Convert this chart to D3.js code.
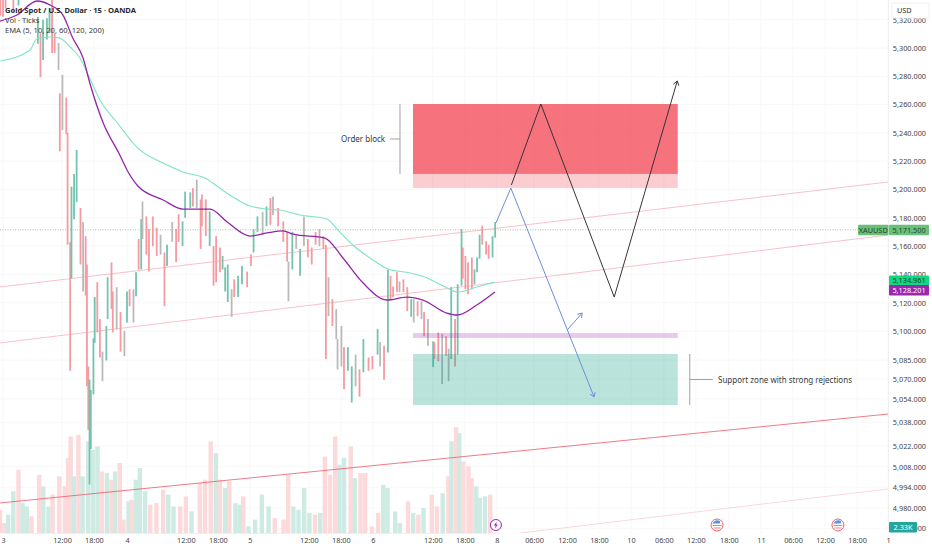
<!DOCTYPE html>
<html>
<head>
<meta charset="utf-8">
<script src="https://cdn.jsdelivr.net/npm/d3@7"></script>
<style>
  html, body { margin: 0; padding: 0; background: #fff; }
  svg { display: block; }
  text { font-family: "Noto Sans", sans-serif; }
</style>
</head>
<body>
<div id="chart"></div>
<script>
// time is in session units: one trading day is about 24 units, day "3" = 0
const barTime = [-0.5,0,0.5,1.25,2,3,3.75,4.5,5.5,6.75,7.25,7.75,8.5,9,9.5,10,10.75,11,11.5,12.25,12.5,13,13.25,13.75,14.25,15,15.5,16,16.25,16.5,16.75,17,17.5,17.75,18.25,18.75,19.25,20,20.25,21,21.25,22,22.75,23.5,24,24.5,25.25,25.75,26.25,26.75,27,27.75,28.25,29,29.75,30.5,31.25,31.75,32.75,33.5,34,34.75,35.25,36.25,36.75,37.5,38.25,38.5,39.25,40,40.75,41.25,42,42.5,43,43.5,44.25,44.75,45.5,46.25,47.25,48,48.5,49.25,50.25,51,51.75,52.25,53.25,54.25,55,55.25,56,56.75,57.5,58.25,59,59.75,60.5,61.25,62,62.5,63,63.75,64.5,64.75,65.5,66,66.75,67.5,68.25,69,69.75,70.75,71.5,72.5,73,73.75,74.5,75,75.5,76.25,76.75,77.5,78.25,79,79.5,80.25,81,81.5,82.25,83.25,83.5,84.25,85,85.75,86.25,86.75,87.5,88,88.75,89,89.5,90,90.75,91.25,91.75,92.25,92.75,93.5,94,94.75,95.25];
const barHigh = [5334,5334,5340,5355,5338,5340,5350,5352,5350,5322,5310.5,5320,5321,5328,5334,5310.5,5303.5,5268,5281,5265,5240,5163,5202,5211,5228,5187,5177,5167,5147,5076,5067,5060,5095,5124,5134.5,5108.5,5086,5103.5,5138,5148.5,5128,5131,5113.5,5100,5128,5129.5,5129.5,5141.5,5165,5179,5191.5,5181,5172,5181,5173,5168,5155.5,5161,5177,5172,5182.5,5177.5,5198.5,5198,5201,5207,5193,5196.5,5193,5184.5,5160,5167,5159,5153,5145,5147,5129.5,5136.5,5139,5146,5142,5154,5172,5181,5184,5188,5194,5195,5187,5177.5,5170,5149,5170,5168,5158,5181,5165,5159,5170,5172,5167,5161,5138,5122.5,5115.5,5094.5,5103.5,5089,5089,5076,5084,5074,5094.5,5082,5083,5101.5,5092.5,5090,5143.5,5139,5131.5,5141.5,5135,5136.5,5131,5122.5,5122.5,5121,5121,5113.5,5108.5,5093,5092.5,5099,5098,5096.5,5088,5131,5108.5,5133,5172,5159,5153,5148.5,5152,5143.5,5152,5168,5174.5,5163.5,5161,5167,5177];
const barLow = [5323,5322,5328,5338,5325,5330,5338,5340,5337,5303,5279.5,5291.5,5306,5311,5296.5,5296.5,5284.5,5227,5242,5239,5161,5073,5137,5179,5191,5147,5128,5125,5062.5,5033,4996,5020,5057,5092,5099,5082,5066,5080,5108.5,5115.5,5099,5101,5086,5083,5106,5117.5,5106,5124.5,5143.5,5143.5,5165,5154,5142,5160,5153,5154,5117.5,5146,5163,5148.5,5163,5160,5180,5187,5188,5187,5158,5174,5167,5160,5132,5134.5,5141.5,5143.5,5128,5120.5,5110,5124,5124,5133,5131,5146,5155.5,5170,5168,5174,5175,5182,5174,5163,5149,5121,5143.5,5158,5139,5160,5152,5147,5161,5160,5158,5081,5110.5,5103.5,5094.5,5074,5076,5060.5,5073,5051.5,5062.5,5055.5,5072,5073,5074,5084,5076,5067,5085.5,5122.5,5124,5127.5,5127.5,5127.5,5114,5110,5106,5110.5,5108.5,5096.5,5090,5075.5,5081,5079.5,5064,5083,5066,5081,5076,5084,5132,5137,5129.5,5126,5129.5,5133,5141.5,5151,5161,5154,5151,5152,5166];
// 1 up, -1 down, 0 mixed (red and green wicks blurred together)
const barDir = [-1,-1,-1,1,-1,1,1,1,1,1,-1,1,1,1,-1,-1,0,-1,0,-1,-1,-1,1,1,1,-1,0,-1,-1,-1,1,1,1,1,-1,-1,0,1,1,-1,-1,0,-1,0,1,-1,0,1,-1,1,0,-1,-1,-1,-1,0,-1,1,0,-1,-1,1,1,1,-1,0,-1,-1,-1,1,-1,-1,-1,1,1,1,0,-1,1,1,-1,-1,1,1,0,1,-1,0,-1,-1,-1,0,1,0,1,0,-1,-1,-1,0,-1,-1,0,-1,0,0,0,-1,1,1,0,-1,1,-1,-1,1,0,-1,1,-1,-1,-1,0,-1,-1,1,0,-1,0,-1,0,1,-1,-1,0,-1,0,1,-1,1,1,-1,-1,-1,-1,1,1,1,-1,-1,-1,1,1];

const volTime = [-0.6,0.2,1,2,3,3.8,4.6,5.5,7,7.8,8.8,9.6,10.9,12,12.6,13.1,13.7,14.6,15.4,16.5,17.4,18.3,19.1,20.1,21,21.7,22.6,23.3,24.3,24.9,25.7,26.5,27.5,28.5,29.7,31,32,33,34.3,35.4,36.5,38.1,39.1,40.2,41.2,42,43,43.8,45,45.9,46.5,47.5,48.8,50.1,51.4,52.6,54.3,55.2,56.2,57.2,58.3,59.3,60.4,61.4,62.3,63.3,64.3,65.1,66,67.3,68.1,69.2,70.1,71.4,72.6,73.6,74.4,75.9,76.8,78.4,79.4,80.4,81.4,83,84,85.1,86.2,86.8,87.7,88.3,89.1,90.1,90.7,91.6,92.3,93.3,94.3];
const volValue = [9.05,3.9,7.1,16.2,24.6,11.6,10.3,6.5,22.6,18.1,10.3,14.9,22,18.1,29.1,37.5,22,38.1,22,35.6,32.3,33.6,23.9,23.3,20.7,23.9,27.2,5.2,12.3,12.9,20.7,25.2,16.2,11,11.6,16.8,14.9,10.3,10.3,14.2,8.4,19.4,20.7,35.6,31,20.7,17.5,20,11.6,11,14.2,2.6,5.2,14.9,10.3,5.8,5.2,22.6,10.3,9.05,17.5,7.8,7.1,7.8,29.7,22.6,37.5,26.5,29.1,33.6,21.3,23.3,23.3,2.6,7.8,18.7,17.5,8.4,3.9,12.3,7.8,7.1,9.7,14.9,10.3,15.5,22,35.6,41.1,38.8,27.8,25.9,21.3,18.1,13.6,14.2,14.9];
const volDir = [-1,-1,1,1,-1,1,1,-1,-1,1,1,-1,-1,-1,-1,-1,1,-1,1,1,1,1,-1,1,-1,1,-1,-1,1,-1,1,1,1,-1,-1,-1,1,1,-1,-1,1,-1,-1,-1,1,-1,1,-1,1,1,-1,1,1,1,1,-1,-1,-1,1,1,1,1,-1,1,-1,-1,-1,1,1,-1,1,-1,-1,-1,-1,1,1,1,1,-1,1,-1,1,-1,-1,1,-1,1,-1,1,-1,-1,-1,1,1,1,-1];

const emaTealTime = [-0.5,5.25,6.5,9,11,13,14.9,16.5,18.75,22,26.1,31,34.8,39.5,40.6,44.5,47.8,51.1,53.6,57.5,62.7,64.8,67.7,71.6,74.5,78.8,82.1,85.2,88.1,91.7,95.2];
const emaTealValue = [5290.8,5298.6,5306.4,5307.8,5307,5300.7,5292.9,5280.9,5263.2,5247.7,5229.3,5218.7,5212.4,5207.4,5204.6,5194.7,5188.3,5186.2,5185.5,5182,5179.2,5171.4,5160.8,5150.2,5143.8,5141,5137.5,5131.8,5127.6,5131.1,5134.6];
const emaPurpleTime = [-0.6,2.7,6.6,9.1,11.6,13.5,15.5,16.8,19.4,22.6,24,26.1,31,34.8,40.1,43.4,47.8,51.1,54.2,56.1,62.3,65.8,69.7,74.3,78.2,81.3,85.9,87.9,91.7,95.2];
const emaPurpleValue = [5319,5323.3,5333.2,5330.4,5323.3,5307,5292.9,5275.3,5247,5224.4,5213.8,5202.5,5192.6,5186.2,5186.2,5177,5167.1,5169.3,5170.7,5168.5,5165.7,5151.6,5133.9,5121.9,5124,5121.9,5112.7,5111.3,5118.4,5127.6];

const channelNames = ["upper", "middle", "lower", "faint"];
const channelTime = [[-0.6, 171.3], [-0.6, 171.3], [-0.6, 171.3], [100.1, 171.3]];
const channelPrice = [[5131.1, 5205.3], [5091.9, 5167.8], [4983.4, 5043.7], [4963, 4992.9]];

const zoneTime = [79.35, 130.6];
const orderBlock = [5211, 5260.4];
const orderBlockWick = [5201, 5211];
const midBand = [5095.3, 5098.6];
const supportZone = [5049.8, 5084.4];

const blackPathTime = [98.4, 104.1, 118.3, 130.5];
const blackPathPrice = [5203.2, 5260.4, 5124, 5276.7];
const bluePathTime = [95.4, 98.3, 114.4];
const bluePathPrice = [5176.3, 5201, 5055.3];
const blueBounceTime = [109.2, 112.1];
const blueBouncePrice = [5100.7, 5112.7];

// the axis spaces its lower labels unevenly, so where a label sits and what it says are kept apart
const priceTickAt = [5320,5300,5280,5260,5240,5220,5200,5180,5160,5140,5120,5100,5080.3,5067.5,5054,5038,5022,5008,4994,4980,4966];
const priceTickLabels = ["5,320.000","5,300.000","5,280.000","5,260.000","5,240.000","5,220.000","5,200.000","5,180.000","5,160.000","5,140.000","5,120.000","5,100.000","5,085.000","5,070.000","5,054.000","5,038.000","5,022.000","5,008.000","4,994.000","4,980.000","4,966.000"];
const timeTicks = [0,11.42,17.6,24,35.4,41.6,47.8,59.2,65.4,71.6,83.2,89.4,95.6,102.77,109.16,115.35,121.55,127.9,134.1,140.5,146.7,152.9,159.1,165.3,171.3];
const timeLabels = ["3","12:00","18:00","4","12:00","18:00","5","12:00","18:00","6","12:00","18:00","8","06:00","12:00","18:00","10","06:00","12:00","18:00","11","06:00","12:00","18:00","1"];
const eventTimes = [95.4, 138.2, 161.6];

const lastPrice = 5171.5, emaTealLast = 5134.961, emaPurpleLast = 5128.201, lastVolume = 2.33;

const width = 932, height = 550, plotRight = 888, plotBottom = 533;

const svg = d3.select("#chart").append("svg")
  .attr("width", width)
  .attr("height", height);

svg.append("defs").append("clipPath").attr("id", "plot")
  .append("rect").attr("width", plotRight).attr("height", plotBottom);

const x = d3.scaleLinear().domain([0, 96]).range([3, 499]);
const y = d3.scaleLinear().domain([4980, 5100, 5300]).range([508, 331, 48]);
const yVol = d3.scaleLinear().domain([0, 2.33]).range([plotBottom, 527]);

const red = "#f69aa2", green = "#74c3ad", mixed = "#bdb8b8";
const barColor = d => d > 0 ? green : d < 0 ? red : mixed;

const plot = svg.append("g").attr("clip-path", "url(#plot)");

// grid
plot.append("g").selectAll("line").data(timeTicks).join("line")
  .attr("x1", d => x(d)).attr("x2", d => x(d))
  .attr("y1", 0).attr("y2", plotBottom)
  .attr("stroke", "#f8f8f8");
plot.append("g").selectAll("line").data(priceTickAt).join("line")
  .attr("x1", 0).attr("x2", plotRight)
  .attr("y1", d => y(d)).attr("y2", d => y(d))
  .attr("stroke", "#f8f8f8");

// volume
plot.append("g").selectAll("rect").data(volValue).join("rect")
  .attr("x", (d, i) => x(volTime[i]) - 2.2)
  .attr("width", 4.4)
  .attr("y", d => yVol(d))
  .attr("height", d => plotBottom - yVol(d))
  .attr("fill", (d, i) => volDir[i] > 0 ? "#cdebe3" : "#fcd9da");

// channel lines
const channelOpacity = [0.35, 0.35, 0.75, 0.22];
channelNames.forEach((name, i) => {
  plot.append("line")
    .attr("class", "channel-" + name)
    .attr("x1", x(channelTime[i][0])).attr("x2", x(channelTime[i][1]))
    .attr("y1", y(channelPrice[i][0])).attr("y2", y(channelPrice[i][1]))
    .attr("stroke", "#ee4d5f")
    .attr("stroke-opacity", channelOpacity[i])
    .attr("stroke-width", 1);
});

// last price dotted line
plot.append("line")
  .attr("x1", 0).attr("x2", plotRight)
  .attr("y1", y(lastPrice)).attr("y2", y(lastPrice))
  .attr("stroke", "#a9c4a9")
  .attr("stroke-dasharray", "1 1.5");

// candles, drawn as high-low strokes since the picture is too soft to show bodies
plot.append("g").selectAll("line").data(barTime).join("line")
  .attr("x1", d => x(d)).attr("x2", d => x(d))
  .attr("y1", (d, i) => y(barHigh[i]))
  .attr("y2", (d, i) => y(barLow[i]))
  .attr("stroke", (d, i) => barColor(barDir[i]))
  .attr("stroke-width", 1.8);

// EMAs
const emaLine = d3.line().curve(d3.curveMonotoneX);
function drawEma(times, values, color, w) {
  plot.append("path")
    .attr("d", emaLine(times.map((t, i) => [x(t), y(values[i])])))
    .attr("fill", "none")
    .attr("stroke", color)
    .attr("stroke-width", w);
}
drawEma(emaTealTime, emaTealValue, "#7fe3c6", 1.1);
drawEma(emaPurpleTime, emaPurpleValue, "#9325a8", 1.3);

// zones
function drawZone(range, color, opacity) {
  plot.append("rect")
    .attr("x", x(zoneTime[0]))
    .attr("width", x(zoneTime[1]) - x(zoneTime[0]))
    .attr("y", y(range[1]))
    .attr("height", y(range[0]) - y(range[1]))
    .attr("fill", color)
    .attr("fill-opacity", opacity);
}
drawZone(orderBlock, "#f23645", 0.7);
drawZone(orderBlockWick, "#f23645", 0.25);
drawZone(midBand, "#9c27b0", 0.25);
drawZone(supportZone, "#089981", 0.28);

// projected paths
const pathLine = d3.line();
function arrowHead(tip, from, color) {
  const a = Math.atan2(tip[1] - from[1], tip[0] - from[0]);
  const len = 5;
  const wing = s => [tip[0] - len * Math.cos(a + s * 0.6), tip[1] - len * Math.sin(a + s * 0.6)];
  plot.append("path")
    .attr("d", pathLine([wing(1), tip, wing(-1)]))
    .attr("fill", "none")
    .attr("stroke", color);
}
function drawPath(times, prices, color) {
  const pts = times.map((t, i) => [x(t), y(prices[i])]);
  plot.append("path")
    .attr("d", pathLine(pts))
    .attr("fill", "none")
    .attr("stroke", color)
    .attr("stroke-width", 1);
  arrowHead(pts[pts.length - 1], pts[pts.length - 2], color);
}
drawPath(blackPathTime, blackPathPrice, "#3c3236");
drawPath(bluePathTime, bluePathPrice, "#6a90dc");
drawPath(blueBounceTime, blueBouncePrice, "#6a90dc");

// notes with brackets
const noteColor = "#a0a0a0";
function bracket(xBar, xTick, range) {
  const mid = (y(range[0]) + y(range[1])) / 2;
  plot.append("path")
    .attr("d", pathLine([[xBar, y(range[0])], [xBar, y(range[1])]]))
    .attr("stroke", noteColor);
  plot.append("path")
    .attr("d", pathLine([[xBar, mid], [xTick, mid]]))
    .attr("stroke", noteColor);
  return mid;
}
const obMid = bracket(x(zoneTime[0]) - 13, x(zoneTime[0]) - 23, orderBlock);
const szMid = bracket(x(zoneTime[1]) + 12, x(zoneTime[1]) + 35, supportZone);
svg.append("text").attr("x", 341).attr("y", obMid + 3)
  .attr("font-size", 8).attr("fill", "#3a3a3a").text("Order block");
svg.append("text").attr("x", 718).attr("y", szMid + 3)
  .attr("font-size", 8).attr("fill", "#3a3a3a").text("Support zone with strong rejections");

// axes
const priceAxis = svg.append("g")
  .attr("transform", `translate(${width - 3},0)`)
  .call(d3.axisLeft(y).tickValues(priceTickAt).tickSize(0)
    .tickFormat((d, i) => priceTickLabels[i]));
priceAxis.select(".domain").remove();
priceAxis.selectAll("text").attr("font-size", 7.3).attr("fill", "#444").attr("font-family", "Noto Sans");

const timeAxis = svg.append("g")
  .attr("transform", `translate(0,${plotBottom})`)
  .call(d3.axisBottom(x).tickValues(timeTicks).tickSize(0).tickPadding(5)
    .tickFormat((d, i) => timeLabels[i]));
timeAxis.select(".domain").attr("stroke", "#eeeeee");
timeAxis.selectAll("text").attr("font-size", 7.3).attr("fill", "#444").attr("font-family", "Noto Sans");

svg.append("line").attr("x1", plotRight + 0.5).attr("x2", plotRight + 0.5)
  .attr("y1", 0).attr("y2", plotBottom).attr("stroke", "#f0f0f0");

// event icons
eventTimes.forEach((t, i) => {
  const g = svg.append("g").attr("transform", `translate(${x(t)},525)`);
  if (i === 0) {
    g.append("circle").attr("r", 5.5).attr("fill", "#fff").attr("stroke", "#9325a8");
    g.append("path").attr("d", "M1,-3.5 L-2,0.5 L-0.2,0.5 L-1,3.5 L2,-0.5 L0.2,-0.5 Z").attr("fill", "#9325a8");
  } else {
    g.append("circle").attr("r", 6).attr("fill", "#fff").attr("stroke", "#ef5f6c");
    g.append("path").attr("d", "M-4.5,-1.5 A5,5 0 0 1 3,-4 L3,-1.5 Z").attr("fill", "#5b93dd");
    g.append("path").attr("d", "M-4.5,0.5 L4.5,0.5").attr("stroke", "#ef7f88");
    g.append("path").attr("d", "M-3.5,3 L3.5,3").attr("stroke", "#ef7f88");
  }
});

// price tags
function priceTag(xLeft, w, yMid, color, text, textColor) {
  svg.append("rect").attr("x", xLeft).attr("y", yMid - 5).attr("width", w).attr("height", 10.5)
    .attr("rx", 1).attr("fill", color);
  svg.append("text").attr("x", xLeft + w / 2).attr("y", yMid + 2.7)
    .attr("text-anchor", "middle").attr("font-size", 7.3).attr("fill", textColor).text(text);
}
const fmt = d3.format(",.3f");
priceTag(858, 30.5, y(lastPrice), "#6abf7b", "XAUUSD", "#25452c");
priceTag(889, 40, y(lastPrice), "#6abf7b", fmt(lastPrice), "#25452c");
priceTag(889, 40, y(emaTealLast) - 1, "#16d67f", fmt(emaTealLast), "#0f4a2e");
priceTag(889, 40, y(emaPurpleLast) - 1, "#9c27b0", fmt(emaPurpleLast), "#ffffff");
priceTag(889, 28, yVol(lastVolume), "#26a69a", lastVolume + "K", "#ffffff");

// currency box
svg.append("rect").attr("x", 892).attr("y", 3).attr("width", 37).attr("height", 15)
  .attr("fill", "#fff").attr("stroke", "#f0f0f0");
svg.append("text").attr("x", 897).attr("y", 13).attr("font-size", 7.3).attr("fill", "#2f2f2f").text("USD");

// legend
svg.append("text").attr("x", 5).attr("y", 12.5).attr("font-size", 7.6).attr("font-weight", 700)
  .attr("fill", "#2a2a2a").text("Gold Spot / U.S. Dollar · 15 · OANDA");
svg.append("text").attr("x", 5).attr("y", 22.5).attr("font-size", 7.6)
  .attr("fill", "#3a3a3a").text("Vol · Ticks");
svg.append("text").attr("x", 5).attr("y", 33).attr("font-size", 7.6)
  .attr("fill", "#3a3a3a").text("EMA (5, 10, 20, 60, 120, 200)");
</script>
</body>
</html>
